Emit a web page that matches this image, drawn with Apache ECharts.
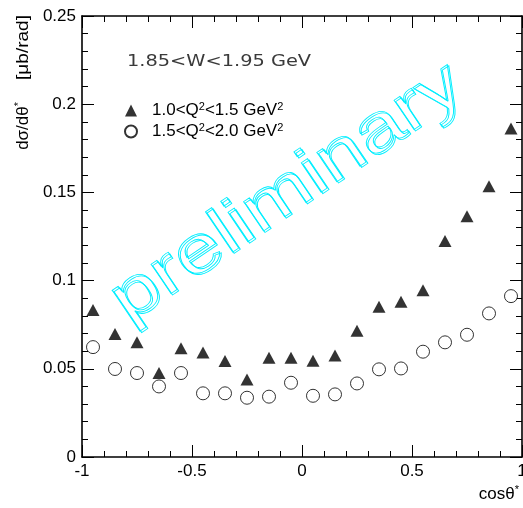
<!DOCTYPE html>
<html>
<head>
<meta charset="utf-8">
<script src="https://cdn.jsdelivr.net/npm/echarts@6/dist/echarts.min.js"></script>
<style>
  html, body { margin: 0; padding: 0; background: #fff; }
  #chart { width: 523px; height: 508px; }
</style>
</head>
<body>
<div id="chart"></div>
<script>
// cos(theta*) bin centres
const cosBins = [-0.95, -0.85, -0.75, -0.65, -0.55, -0.45, -0.35, -0.25, -0.15, -0.05,
                 0.05, 0.15, 0.25, 0.35, 0.45, 0.55, 0.65, 0.75, 0.85, 0.95];
// dsigma/dtheta* [microbarn/rad], 1.0 < Q^2 < 1.5 GeV^2
const lowQ2 = [0.0833, 0.0697, 0.0650, 0.0476, 0.0616, 0.0593, 0.0544, 0.0440, 0.0563, 0.0563,
               0.0546, 0.0576, 0.0716, 0.0852, 0.0880, 0.0946, 0.1224, 0.1365, 0.1535, 0.1862];
// dsigma/dtheta* [microbarn/rad], 1.5 < Q^2 < 2.0 GeV^2
const highQ2 = [0.0623, 0.0499, 0.0476, 0.0400, 0.0476, 0.0361, 0.0361, 0.0336, 0.0342, 0.0421,
                0.0347, 0.0355, 0.0417, 0.0497, 0.0502, 0.0597, 0.0650, 0.0693, 0.0814, 0.0912];
const seriesNames = ['1.0<Q2<1.5 GeV2', '1.5<Q2<2.0 GeV2'];
const seriesLabels = ['1.0<Q{sup|2}<1.5 GeV{sup|2}', '1.5<Q{sup|2}<2.0 GeV{sup|2}'];
const xTicks = { min: -1, max: 1, interval: 0.5 };
const yTicks = { min: 0, max: 0.25, interval: 0.05 };

const chart = echarts.init(document.getElementById('chart'), null, { renderer: 'canvas' });

const axisFont = { fontFamily: 'Liberation Sans', fontSize: 17, color: '#000' };
const lineStyle = { color: '#000', width: 1.6 };

function xAxisDef(pos, showLabels) {
  return {
    type: 'value', position: pos, min: xTicks.min, max: xTicks.max, interval: xTicks.interval,
    axisLine: { show: true, onZero: false, lineStyle },
    axisTick: { show: true, inside: true, length: 12, lineStyle: { color: '#000', width: 1 } },
    minorTick: { show: true, splitNumber: 5, length: 6, lineStyle: { color: '#000', width: 1 } },
    splitLine: { show: false },
    axisLabel: Object.assign({ show: showLabels, margin: 6, hideOverlap: false,
                               showMinLabel: true, showMaxLabel: true }, axisFont)
  };
}
function yAxisDef(pos, showLabels) {
  return {
    type: 'value', position: pos, min: yTicks.min, max: yTicks.max, interval: yTicks.interval,
    axisLine: { show: true, onZero: false, lineStyle },
    axisTick: { show: true, inside: true, length: 12, lineStyle: { color: '#000', width: 1 } },
    minorTick: { show: true, splitNumber: 5, length: 6, lineStyle: { color: '#000', width: 1 } },
    splitLine: { show: false },
    axisLabel: Object.assign({ show: showLabels, margin: 6, showMinLabel: true, showMaxLabel: true }, axisFont)
  };
}

const supRich = {
  sup: { fontFamily: 'Liberation Sans', fontSize: 11, verticalAlign: 'top', padding: [0, 0, 8, 0], color: '#000' }
};

const wmColor = '#00eeff';
function watermark(dx, dy) {
  return {
    type: 'text',
    x: 287 + dx, y: 193 + dy,
    rotation: 34 * Math.PI / 180,
    scaleX: 1.25,
    silent: true,
    z: 1,
    style: {
      text: 'preliminary',
      font: '67px "Liberation Sans"',
      fill: 'rgba(0,0,0,0)',
      stroke: wmColor,
      lineWidth: 0.8,
      align: 'center',
      verticalAlign: 'middle'
    }
  };
}

chart.setOption({
  animation: false,
  backgroundColor: '#fff',
  grid: { left: 82, right: 1, top: 16, bottom: 51, containLabel: false, outerBoundsMode: 'none' },
  xAxis: [xAxisDef('bottom', true), xAxisDef('top', false)],
  yAxis: [yAxisDef('left', true), yAxisDef('right', false)],
  legend: {
    orient: 'vertical', left: 119, top: 96, itemGap: 3,
    itemWidth: 12, itemHeight: 12,
    data: seriesNames,
    formatter: name => seriesLabels[seriesNames.indexOf(name)],
    textStyle: { fontFamily: 'Liberation Sans', fontSize: 17, color: '#000', padding: [0, 0, 0, 10], rich: supRich },
    selectedMode: false
  },
  graphic: [
    watermark(0, 0),
    watermark(1.6, 1.4),
    {
      type: 'text', x: 127, y: 62, scaleX: 1.21, silent: true,
      style: { text: '1.85<W<1.95 GeV', font: '16px "DejaVu Sans"', fill: '#3a3a3a', verticalAlign: 'middle' }
    },
    // y-axis title: unit part and quantity part
    {
      type: 'text', x: 23, y: 15, rotation: Math.PI / 2, scaleX: 1.12, silent: true,
      style: {
        text: '[μb/rad]', font: '17px "Liberation Sans"', fill: '#000',
        align: 'right', verticalAlign: 'middle'
      }
    },
    {
      type: 'text', x: 23, y: 102, rotation: Math.PI / 2, silent: true,
      style: {
        text: 'dσ/dθ{sup|*}', font: '17px "Liberation Sans"', fill: '#000',
        align: 'right', verticalAlign: 'middle', rich: supRich
      }
    },
    {
      type: 'text', x: 519, y: 494, silent: true,
      style: {
        text: 'cosθ{sup|*}', font: '17px "Liberation Sans"', fill: '#000',
        align: 'right', verticalAlign: 'middle', rich: supRich
      }
    }
  ],
  series: [
    {
      name: seriesNames[0], type: 'scatter', z: 5,
      symbol: 'triangle', symbolSize: [13, 12],
      itemStyle: { color: '#000' },
      data: cosBins.map((c, i) => [c, lowQ2[i]])
    },
    {
      name: seriesNames[1], type: 'scatter', z: 5,
      symbol: 'circle', symbolSize: 13,
      itemStyle: { color: '#fff', borderColor: '#000', borderWidth: 1 },
      data: cosBins.map((c, i) => [c, highQ2[i]])
    }
  ]
});
</script>
</body>
</html>
